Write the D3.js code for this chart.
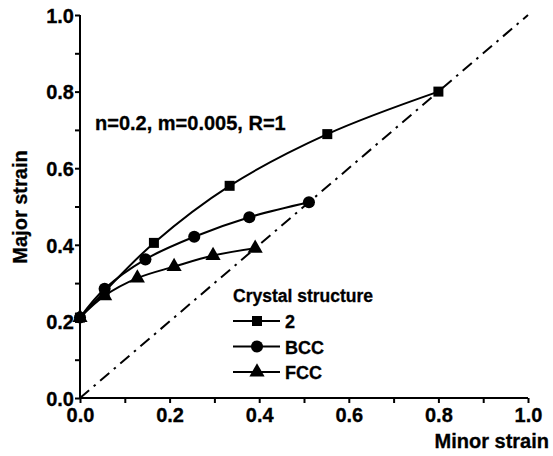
<!DOCTYPE html>
<html><head><meta charset="utf-8">
<script src="https://cdn.jsdelivr.net/npm/d3@7"></script>
<style>body{margin:0;background:#fff}svg{display:block}text{font-family:Arial,"Liberation Sans",sans-serif;font-weight:bold;fill:#000;stroke:#000;stroke-width:0.3px}</style>
</head><body><svg id="c" width="553" height="456"></svg>
<script>
const seriesNames = ["2", "BCC", "FCC"];
const markers = ["square", "circle", "triangle"];
const x2 = [0, 0.055, 0.165, 0.334, 0.552, 0.8];
const y2 = [0.21, 0.278, 0.405, 0.554, 0.689, 0.8];
const xBCC = [0, 0.055, 0.146, 0.255, 0.378, 0.511];
const yBCC = [0.21, 0.285, 0.362, 0.421, 0.472, 0.511];
const xFCC = [0, 0.055, 0.128, 0.21, 0.297, 0.391];
const yFCC = [0.21, 0.267, 0.313, 0.343, 0.372, 0.391];
const xTicks = [0, 0.2, 0.4, 0.6, 0.8, 1.0];
const yTicks = [0, 0.2, 0.4, 0.6, 0.8, 1.0];
const diagX = [0, 1];
const diagY = [0, 1];
const annotation = "n=0.2, m=0.005, R=1";
const legendTitle = "Crystal structure";
const xTitle = "Minor strain", yTitle = "Major strain";

const svg = d3.select("#c");
const x = d3.scaleLinear().domain([0, 1]).range([80, 528]);
const y = d3.scaleLinear().domain([0, 1]).range([398, 15]);
const FS = 20, LFS = 17.5;
const FF = "Arial, 'Liberation Sans', sans-serif";

// axes
const minor = d3.range(0, 1.0001, 0.1);
const xAx = svg.append("g").attr("transform", `translate(0,${y(0)})`)
  .call(d3.axisBottom(x).tickValues(minor).tickSize(5).tickFormat(d => xTicks.some(t => Math.abs(t - d) < 1e-9) ? d3.format(".1f")(d) : ""));
const yAx = svg.append("g").attr("transform", `translate(${x(0)},0)`)
  .call(d3.axisLeft(y).tickValues(minor).tickSize(5).tickFormat(d => yTicks.some(t => Math.abs(t - d) < 1e-9) ? d3.format(".1f")(d) : ""));
[xAx, yAx].forEach(g => {
  g.attr("font-family", FF).attr("font-size", FS).attr("font-weight", "bold");
  g.select(".domain").attr("stroke", "#000").attr("stroke-width", 2);
  g.selectAll(".tick line").attr("stroke", "#000").attr("stroke-width", 2);
  g.selectAll(".tick text").style("font-size", FS + "px").style("font-weight", "bold").style("font-family", FF).attr("fill", "#000");
});
xAx.select(".domain").attr("d", `M${x(0)},0H${x(1)}`);
yAx.select(".domain").attr("d", `M0,${y(0)}V${y(1)}`);
xAx.selectAll(".tick text").attr("dy", "0.85em").attr("y", 7);
yAx.selectAll(".tick text").attr("x", -6).attr("dy", "0.36em");

// diagonal
const line = d3.line().x(d => x(d[0])).y(d => y(d[1]));
svg.append("path").attr("d", line(diagX.map((v, i) => [v, diagY[i]])))
  .attr("fill", "none").attr("stroke", "#000").attr("stroke-width", 2)
  .attr("stroke-dasharray", "12,6,2.5,6");

// series
const data = [[x2, y2], [xBCC, yBCC], [xFCC, yFCC]];
const curve = d3.line().x(d => x(d[0])).y(d => y(d[1])).curve(d3.curveCatmullRom.alpha(0.5));
const sym = {square: d3.symbolSquare, circle: d3.symbolCircle, triangle: d3.symbolTriangle};
const symSize = {square: 100, circle: 115, triangle: 100};
data.forEach((s, i) => {
  const pts = s[0].map((v, j) => [v, s[1][j]]);
  svg.append("path").attr("d", curve(pts)).attr("fill", "none").attr("stroke", "#000").attr("stroke-width", 2);
  svg.append("g").selectAll("path").data(pts).join("path")
    .attr("transform", d => `translate(${x(d[0])},${y(d[1])})`)
    .attr("d", d3.symbol().type(sym[markers[i]]).size(symSize[markers[i]]))
    .attr("fill", "#000");
});

// annotation
svg.append("text").attr("x", 95).attr("y", 130).style("font-size", FS + "px").text(annotation);

// legend
svg.append("text").attr("x", 233).attr("y", 302).style("font-size", LFS + "px").text(legendTitle);
seriesNames.forEach((n, i) => {
  const ly = 321 + i * 25.5;
  svg.append("line").attr("x1", 233).attr("x2", 280).attr("y1", ly).attr("y2", ly).attr("stroke", "#000").attr("stroke-width", 2);
  svg.append("path").attr("transform", `translate(257,${ly})`).attr("d", d3.symbol().type(sym[markers[i]]).size(symSize[markers[i]])).attr("fill", "#000");
  svg.append("text").attr("x", 285).attr("y", ly + 7).style("font-size", (LFS + 0.5) + "px").text(n);
});

// axis titles
svg.append("text").attr("x", 549).attr("y", 448).attr("text-anchor", "end").style("font-size", FS + "px").text(xTitle);
svg.append("text").attr("transform", "translate(27,207) rotate(-90)").attr("text-anchor", "middle").style("font-size", FS + "px").text(yTitle);
</script></body></html>
